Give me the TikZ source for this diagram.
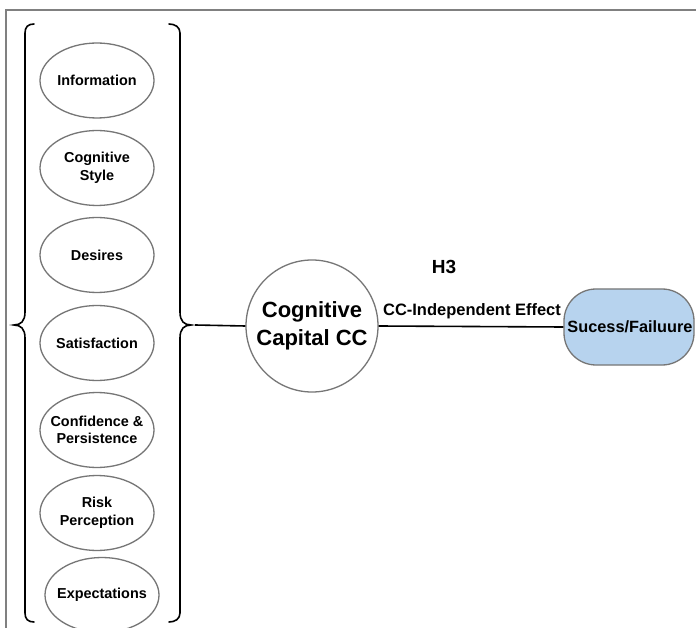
\documentclass[tikz,border=0pt]{standalone}
\usepackage{fontspec}
\setmainfont{Liberation Sans}
\usetikzlibrary{shapes.geometric}
\definecolor{outline}{HTML}{767676}
\definecolor{framegray}{HTML}{808080}
\definecolor{outcome}{HTML}{B7D3EE}
\begin{document}
\begin{tikzpicture}[x=1pt,y=-1pt,
  factor/.style={ellipse, draw=outline, line width=1.3pt, fill=white,
    minimum width=114pt, minimum height=75pt, inner xsep=-7pt, inner ysep=-5pt,
    align=center, font=\fontsize{14.4}{17.6}\selectfont\bfseries},
  hub/.style={circle, draw=outline, line width=1.3pt, minimum size=132pt,
    inner sep=0pt, align=center, font=\fontsize{22}{28}\selectfont\bfseries},
  outcomebox/.style={rectangle, rounded corners=32pt, draw=outline, line width=1.3pt,
    fill=outcome, minimum width=130pt, minimum height=76pt, inner sep=0pt},
  brace/.style={line width=1.6pt, line cap=round},
  link/.style={line width=1.6pt},
  lbl/.style={inner sep=0pt, font=\fontsize{16.5}{20}\selectfont\bfseries}]
\useasboundingbox (0,0) rectangle (696,628);
\fill[white] (0,0) rectangle (696,628);
% partial frame
\draw[framegray, line width=1.8pt] (6,628) -- (6,10) -- (696,10);

% factors
\node[factor] (info) at (97,80.5) {Information};
\node[factor] (style) at (97,168) {Cognitive\\Style};
\node[factor] (desires) at (97,255) {Desires};
\node[factor] (satis) at (97,343) {Satisfaction};
\node[factor] (conf) at (97,430) {Confidence \&\\Persistence};
\node[factor] (risk) at (97,513) {Risk\\Perception};
\node[factor] (expect) at (102,595) {Expectations};

% braces around the factors
\draw[brace] (34,24) .. controls (28,24) and (25,27) .. (25,33) -- (25,312)
  .. controls (25,321) and (21,325) .. (14,325)
  .. controls (21,325) and (25,329) .. (25,338) -- (25,613)
  .. controls (25,619) and (28,622) .. (34,622);
\draw[brace] (169,24) .. controls (175,24) and (180,27) .. (180,33) -- (180,312)
  .. controls (180,321) and (184,325) .. (191,325)
  .. controls (184,325) and (180,329) .. (180,338) -- (180,613)
  .. controls (180,619) and (175,622) .. (169,622);
\coordinate (bracetip) at (195,325);

% central construct and outcome
\node[hub] (cc) at (312,326) {Cognitive\\Capital CC};
\node[outcomebox] (out) at (629,327) {};
\node[lbl, font=\fontsize{16.3}{20}\selectfont\bfseries] (outtext) at (630,327) {Sucess/Failuure};

\draw[link] (bracetip) -- (cc.west);
\draw[link] (cc.east) -- (out.west);

\node[lbl] (effect) at (472,311) {CC-Independent Effect};
\node[lbl, font=\fontsize{19}{22}\selectfont\bfseries] (h3) at (444,267) {H3};
\end{tikzpicture}
\end{document}
